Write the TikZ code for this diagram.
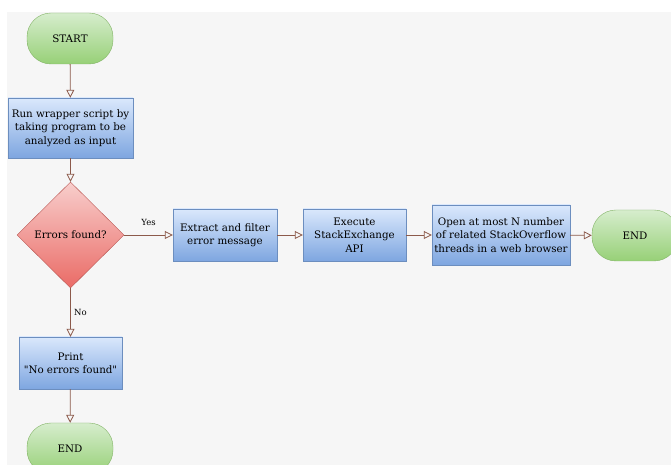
\documentclass[tikz,border=0pt]{standalone}
\usepackage{fontspec}
\setmainfont{DejaVu Serif}
\usepackage{tikz}
\usetikzlibrary{shapes.geometric,arrows.meta,positioning}

\definecolor{termline}{RGB}{130,179,102}
\definecolor{termtop}{RGB}{214,237,205}
\definecolor{termbot}{RGB}{151,208,119}
\definecolor{boxline}{RGB}{108,142,191}
\definecolor{boxtop}{RGB}{218,232,252}
\definecolor{boxbot}{RGB}{126,166,224}
\definecolor{decline}{RGB}{184,84,80}
\definecolor{dectop}{RGB}{248,206,204}
\definecolor{decbot}{RGB}{234,107,102}
\definecolor{flowline}{RGB}{140,90,75}
\definecolor{paper}{RGB}{246,246,246}

\begin{document}
\begin{tikzpicture}[x=1pt, y=1pt, >={Triangle[open,length=8pt,width=8pt]},
    font=\fontsize{10.3}{13.3}\selectfont,
    terminal/.style={draw=termline, top color=termtop, bottom color=termbot, rounded corners=24pt, minimum width=86pt, minimum height=51pt, inner sep=0pt},
    process/.style={draw=boxline, top color=boxtop, bottom color=boxbot, align=center, inner sep=0pt},
    decision/.style={diamond, draw=decline, top color=dectop, bottom color=decbot, minimum width=107pt, minimum height=106pt, inner sep=0pt},
    flow/.style={->, flowline, thick},
    tag/.style={font=\fontsize{8.5}{10}\selectfont, text=black}]
    \useasboundingbox (0,0) rectangle (671,465);
    \fill[paper] (7,0) rectangle (671,453); %背景

    \node[terminal] (start) at (70,426.5) {START};
    \node[process, minimum width=125pt, minimum height=60pt] (run) at (70.5,337) {Run wrapper script by\\taking program to be\\analyzed as input};
    \node[decision] (check) at (70.5,230) {Errors found?};
    \node[process, minimum width=104pt, minimum height=52pt] (extract) at (225,230) {Extract and filter\\error message};
    \node[process, minimum width=103pt, minimum height=52pt] (execute) at (354.5,230) {Execute\\StackExchange\\API};
    \node[process, minimum width=138pt, minimum height=60pt] (open) at (501,230) {Open at most N number\\of related StackOverflow\\threads in a web browser};
    \node[terminal] (endright) at (635,229.5) {END};
    \node[process, minimum width=103pt, minimum height=52pt] (print) at (70.5,102) {Print\\\textquotedbl No errors found\textquotedbl};
    \node[terminal] (endbottom) at (70,16.5) {END};

    \draw[flow] (start) -- (run);
    \draw[flow] (run) -- (check);
    \draw[flow] (check) -- node[tag, above=6pt] {Yes} (extract); %是
    \draw[flow] (check) -- node[tag, right=0pt] {No} (print); %否
    \draw[flow] (extract) -- (execute);
    \draw[flow] (execute) -- (open);
    \draw[flow] (open) -- (endright);
    \draw[flow] (print) -- (endbottom);
\end{tikzpicture}
\end{document}
